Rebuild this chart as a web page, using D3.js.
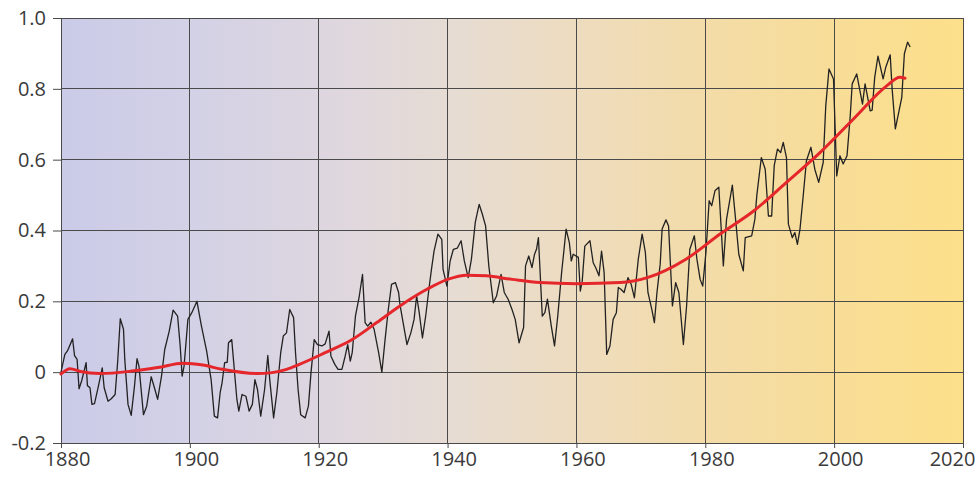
<!DOCTYPE html>
<html>
<head>
<meta charset="utf-8">
<script src="https://cdn.jsdelivr.net/npm/d3@7"></script>
<style>
  html, body { margin: 0; padding: 0; background: #ffffff; }
  svg { display: block; }
  .tick text { font-family: "Open Sans", sans-serif; fill: #3a3a3a; }
</style>
</head>
<body>
<svg id="chart" width="980" height="477"></svg>
<script>
// Temperature anomaly trace (year, value)
const years = [
  1880.0,1880.6,1881.0,1881.8,1882.1,1882.5,1882.8,1883.2,1883.9,1884.1,1884.5,1884.8,1885.2,1885.8,1886.4,1886.7,1887.3,1887.8,1888.4,1888.8,
  1889.2,1889.7,1889.9,1890.4,1890.9,1891.4,1891.8,1892.1,1892.8,1893.3,1894.0,1894.5,1895.0,1895.6,1896.1,1896.8,1897.4,1898.1,1898.5,1898.8,
  1899.1,1899.7,1900.3,1901.1,1901.8,1902.6,1903.3,1903.8,1904.3,1904.7,1905.0,1905.4,1905.8,1906.0,1906.5,1907.3,1907.6,1908.1,1908.7,1909.2,
  1909.7,1910.1,1910.5,1911.0,1911.6,1912.1,1912.4,1913.0,1913.5,1914.1,1914.5,1915.0,1915.5,1916.1,1916.4,1916.8,1917.2,1917.9,1918.4,1918.8,
  1919.3,1919.8,1920.5,1921.0,1921.6,1921.9,1922.5,1923.0,1923.6,1924.1,1924.5,1924.9,1925.2,1925.7,1926.3,1926.8,1927.2,1927.6,1928.1,1928.6,
  1929.3,1929.8,1930.3,1930.8,1931.3,1931.9,1932.4,1932.6,1933.1,1933.7,1934.3,1934.8,1935.2,1935.6,1936.1,1936.6,1937.1,1937.5,1937.9,1938.5,
  1939.1,1939.3,1939.9,1940.4,1940.9,1941.5,1942.1,1942.6,1943.2,1943.7,1944.3,1944.9,1945.4,1945.9,1946.4,1947.1,1947.6,1948.3,1948.8,1949.4,
  1950.0,1950.5,1951.1,1951.8,1952.1,1952.6,1953.1,1953.5,1953.8,1954.1,1954.7,1955.1,1955.5,1956.1,1956.6,1957.1,1957.7,1958.4,1958.9,1959.2,
  1959.5,1960.3,1960.6,1960.9,1961.3,1962.1,1962.6,1963.0,1963.5,1963.9,1964.3,1964.7,1965.2,1965.7,1966.2,1966.5,1966.9,1967.4,1968.0,1968.5,
  1969.0,1969.6,1970.2,1970.7,1971.1,1971.7,1972.1,1972.5,1973.0,1973.3,1973.9,1974.3,1974.9,1975.4,1975.9,1976.6,1977.1,1977.6,1978.3,1978.7,
  1979.2,1979.6,1980.1,1980.6,1981.0,1981.5,1982.1,1982.8,1983.3,1984.2,1984.7,1985.2,1985.9,1986.2,1987.2,1987.7,1988.0,1988.7,1989.3,1989.8,
  1990.3,1990.7,1991.2,1991.7,1992.1,1992.6,1992.9,1993.5,1993.9,1994.3,1994.7,1995.2,1995.7,1996.4,1997.0,1997.6,1998.3,1998.7,1999.2,1999.9,
  2000.4,2000.9,2001.4,2002.0,2002.5,2002.8,2003.5,2004.0,2004.4,2004.8,2005.6,2005.9,2006.3,2006.8,2007.6,2008.0,2008.7,2009.0,2009.5,2010.5,
  2010.9,2011.4,2011.8
];
const anomaly = [
  0.000,0.050,0.060,0.094,0.047,0.036,-0.047,-0.025,0.027,-0.038,-0.044,-0.091,-0.089,-0.040,0.012,-0.044,-0.082,-0.075,-0.063,0.031,
  0.151,0.121,0.036,-0.091,-0.122,-0.040,0.038,0.017,-0.120,-0.096,-0.013,-0.044,-0.077,-0.011,0.064,0.116,0.175,0.158,0.074,-0.011,
  0.017,0.149,0.168,0.200,0.130,0.060,-0.021,-0.124,-0.129,-0.058,-0.030,0.027,0.028,0.083,0.092,-0.077,-0.110,-0.063,-0.068,-0.110,
  -0.091,-0.021,-0.049,-0.124,-0.049,0.047,-0.021,-0.129,-0.058,0.055,0.102,0.111,0.177,0.154,0.055,-0.049,-0.120,-0.129,-0.096,-0.002,
  0.092,0.078,0.074,0.080,0.116,0.045,0.022,0.008,0.008,0.045,0.078,0.031,0.055,0.158,0.215,0.276,0.140,0.130,0.141,0.121,
  0.055,0.000,0.092,0.177,0.248,0.253,0.225,0.192,0.140,0.078,0.111,0.149,0.215,0.168,0.097,0.158,0.234,0.290,0.342,0.390,
  0.375,0.290,0.243,0.314,0.347,0.350,0.371,0.314,0.267,0.319,0.423,0.474,0.446,0.413,0.300,0.196,0.215,0.276,0.225,0.206,
  0.177,0.149,0.083,0.126,0.300,0.328,0.295,0.333,0.347,0.380,0.158,0.168,0.206,0.130,0.074,0.158,0.281,0.404,0.366,0.314,
  0.333,0.324,0.229,0.257,0.356,0.371,0.309,0.295,0.272,0.342,0.281,0.050,0.074,0.149,0.168,0.239,0.234,0.225,0.267,0.248,
  0.210,0.319,0.390,0.338,0.225,0.177,0.140,0.225,0.305,0.404,0.430,0.413,0.187,0.253,0.225,0.078,0.187,0.347,0.385,0.319,
  0.262,0.243,0.338,0.484,0.470,0.512,0.522,0.300,0.432,0.528,0.432,0.333,0.286,0.380,0.385,0.432,0.500,0.606,0.573,0.441,
  0.441,0.583,0.630,0.620,0.649,0.606,0.418,0.380,0.394,0.361,0.404,0.498,0.597,0.635,0.573,0.536,0.592,0.752,0.856,0.828,
  0.554,0.611,0.588,0.611,0.724,0.814,0.842,0.795,0.757,0.814,0.738,0.740,0.833,0.892,0.828,0.860,0.896,0.800,0.687,0.776,
  0.899,0.932,0.918
];
// Smoothed trend (red)
const trendYears  = [1880,1881.4,1883,1886,1891,1895,1899,1902,1905,1910.4,1912.5,1915,1917,1921,1925,1929,1932.6,1936.8,1940,1943,1946,1950,1954.3,1960,1966.8,1971,1977,1982.3,1987.5,1992.6,1997.8,2003,2008.2,2010.2,2011];
const trendValues = [-0.005,0.010,0.002,-0.004,0.003,0.013,0.025,0.020,0.008,-0.004,-0.002,0.008,0.022,0.055,0.090,0.140,0.187,0.234,0.262,0.274,0.272,0.262,0.253,0.250,0.253,0.267,0.319,0.390,0.455,0.536,0.620,0.715,0.809,0.833,0.830];
// Axis ticks
const xTicks = [1880,1900,1920,1940,1960,1980,2000,2020];
const yTicks = [-0.2,0,0.2,0.4,0.6,0.8,1.0];
const yTickLabels = ["-0.2","0","0.2","0.4","0.6","0.8","1.0"];
// Background gradient colours (left to right)
const bgColors = ["#cacbe8","#d3d1e6","#ddd6e0","#e6dcd4","#eedcbf","#f3dca8","#f8dd98","#fde08a"];

const svg = d3.select("#chart");
const L = 61, R = 963, T = 18, B = 443;
const x = d3.scaleLinear().domain([1880, 2020]).range([L, R]);
const y = d3.scaleLinear().domain([-0.2, 1.0]).range([B, T]);

const defs = svg.append("defs");
const grad = defs.append("linearGradient").attr("id", "bg").attr("x1", "0%").attr("x2", "100%").attr("y1", "0%").attr("y2", "0%");
bgColors.forEach((c, i) => grad.append("stop").attr("offset", (i / (bgColors.length - 1) * 100) + "%").attr("stop-color", c));

svg.append("rect").attr("x", L).attr("y", T).attr("width", R - L).attr("height", B - T).attr("fill", "url(#bg)");

// grid
svg.append("g").selectAll("line.h").data(yTicks).join("line")
  .attr("x1", L).attr("x2", R).attr("y1", d => y(d)).attr("y2", d => y(d))
  .attr("stroke", "#4a4a4a").attr("stroke-width", 1).attr("shape-rendering", "crispEdges");
svg.append("g").selectAll("line.v").data(xTicks).join("line")
  .attr("x1", d => x(d)).attr("x2", d => x(d)).attr("y1", T).attr("y2", B)
  .attr("stroke", "#4a4a4a").attr("stroke-width", 1).attr("shape-rendering", "crispEdges");

// axes
const yAxis = d3.axisLeft(y).tickValues(yTicks).tickFormat((d, i) => yTickLabels[i]).tickSize(8).tickSizeOuter(0).tickPadding(7);
const gy = svg.append("g").attr("transform", `translate(${L},0)`).call(yAxis);
gy.selectAll(".tick line").attr("stroke", "#4a4a4a");
gy.select(".domain").attr("stroke", "#4a4a4a");
gy.selectAll("text").attr("font-size", 20);

const xAxis = d3.axisBottom(x).tickValues(xTicks).tickFormat(d3.format("d")).tickSize(5).tickSizeOuter(0).tickPadding(4);
const gx = svg.append("g").attr("transform", `translate(0,${B})`).call(xAxis);
gx.selectAll(".tick line").attr("stroke", "#4a4a4a");
gx.select(".domain").attr("stroke", "#4a4a4a");
gx.selectAll("text").attr("font-size", 20).attr("dx", d => d === 2020 ? -11 : 6);

// data line
const pts = years.map((yr, i) => [yr, anomaly[i]]);
svg.append("path").datum(pts)
  .attr("fill", "none").attr("stroke", "#222222").attr("stroke-width", 1.3).attr("stroke-linejoin", "round")
  .attr("d", d3.line().x(d => x(d[0])).y(d => y(d[1])));

// trend
const tpts = trendYears.map((yr, i) => [yr, trendValues[i]]);
svg.append("path").datum(tpts)
  .attr("fill", "none").attr("stroke", "#e5262a").attr("stroke-width", 3).attr("stroke-linecap", "round")
  .attr("d", d3.line().curve(d3.curveMonotoneX).x(d => x(d[0])).y(d => y(d[1])));
</script>
</body>
</html>
